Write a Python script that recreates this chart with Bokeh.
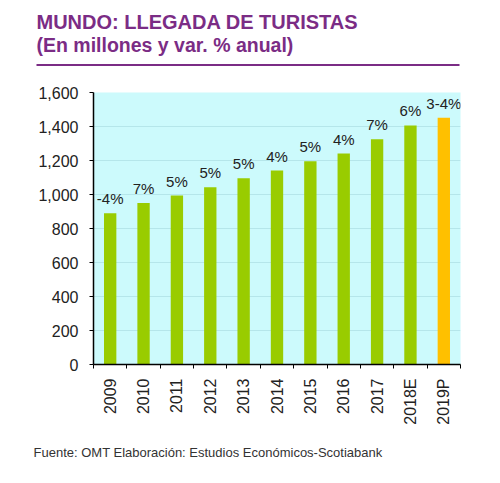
import math
from bokeh.plotting import figure
from bokeh.layouts import column
from bokeh.models import (ColumnDataSource, NumeralTickFormatter, FixedTicker, Range1d)
from bokeh.core.properties import value
from bokeh.embed import file_html
from bokeh.resources import INLINE

# ---- data ----
years = ["2009", "2010", "2011", "2012", "2013", "2014", "2015", "2016", "2017", "2018E", "2019P"]
arrivals = [890, 950, 994, 1043, 1096, 1141, 1196, 1241, 1325, 1406, 1451]
growth = ["-4%", "7%", "5%", "5%", "5%", "4%", "5%", "4%", "7%", "6%", "3-4%"]
y_ticks = [0, 200, 400, 600, 800, 1000, 1200, 1400, 1600]

title_1 = "MUNDO: LLEGADA DE TURISTAS"
title_2 = "(En millones y var. % anual)"
source_note = "Fuente: OMT  Elaboración: Estudios Económicos-Scotiabank"

GREEN = "#99CC00"
ORANGE = "#FFC000"
PURPLE = "#7B2C85"
FONT = "Liberation Sans"
W = 498


def text_panel(height):
    f = figure(width=W, height=height, output_backend="svg", toolbar_location=None,
               x_range=Range1d(0, W), y_range=Range1d(height, 0),
               x_axis_type=None, y_axis_type=None, min_border=0)
    f.frame_align = False
    f.outline_line_color = None
    f.grid.grid_line_color = None
    f.background_fill_color = "white"
    f.border_fill_color = "white"
    return f


# ---- header (pixel coordinates, y downward) ----
head = text_panel(80)
head.text(x=[36], y=[21], text=[title_1], text_font=value(FONT), text_font_size="20px",
          text_font_style="bold", text_color=PURPLE, text_baseline="middle")
head.text(x=[36], y=[44.5], text=[title_2], text_font=value(FONT), text_font_size="19.5px",
          text_font_style="bold", text_color=PURPLE, text_baseline="middle")
head.segment(x0=[36], y0=[64.5], x1=[459], y1=[64.5], line_color=PURPLE, line_width=2)

# ---- main chart ----
n = len(years)
centers = [i + 0.5 for i in range(n)]
colors = [GREEN] * (n - 1) + [ORANGE]
src = ColumnDataSource(dict(x=centers, top=arrivals, lab=growth, color=colors))

p = figure(width=W, height=360, output_backend="svg", toolbar_location=None,
           x_range=Range1d(0, n), y_range=Range1d(0, 1600),
           min_border_left=93, min_border_right=38, min_border_top=12,
           min_border_bottom=76)
p.frame_align = False
p.outline_line_color = None
p.background_fill_color = "#CCFAFC"
p.border_fill_color = "white"

p.vbar(x="x", top="top", width=0.37, source=src, color="color", line_color=None)
p.text(x="x", y="top", text="lab", source=src, text_align="center",
       text_baseline="bottom", y_offset=-6, text_font=value(FONT),
       text_font_size="15px", text_color="#222222")

p.yaxis.ticker = FixedTicker(ticks=y_ticks)
p.yaxis.formatter = NumeralTickFormatter(format="0,0")
p.yaxis.major_label_text_font = FONT
p.yaxis.major_label_text_font_size = "16px"
p.yaxis.major_label_text_color = "#222222"
p.yaxis.axis_line_color = "black"
p.yaxis.axis_line_width = 1.5
p.yaxis.major_tick_out = 4
p.yaxis.major_tick_in = 0
p.yaxis.minor_tick_line_color = None
p.yaxis.major_label_standoff = 11

p.xaxis.ticker = FixedTicker(ticks=centers, minor_ticks=list(range(n + 1)))
p.xaxis.major_label_overrides = {c: y for c, y in zip(centers, years)}
p.xaxis.major_label_orientation = math.pi / 2
p.xaxis.major_label_text_font = FONT
p.xaxis.major_label_text_font_size = "16px"
p.xaxis.major_label_text_color = "#222222"
p.xaxis.axis_line_color = "black"
p.xaxis.axis_line_width = 1.5
p.xaxis.major_tick_out = 0
p.xaxis.major_tick_in = 0
p.xaxis.minor_tick_out = 4
p.xaxis.minor_tick_in = 0
p.xaxis.major_label_standoff = 10

p.xgrid.grid_line_color = None
p.ygrid.ticker = FixedTicker(ticks=y_ticks)
p.ygrid.grid_line_color = "#B5E6EA"
p.ygrid.grid_line_width = 1

# ---- footer ----
foot = text_panel(40)
foot.text(x=[33], y=[12], text=[source_note], text_font=value(FONT),
          text_font_size="13px", text_color="#333333", text_baseline="middle")

layout = column(head, p, foot, spacing=0)
open("out.html", "w").write(file_html(layout, INLINE))
